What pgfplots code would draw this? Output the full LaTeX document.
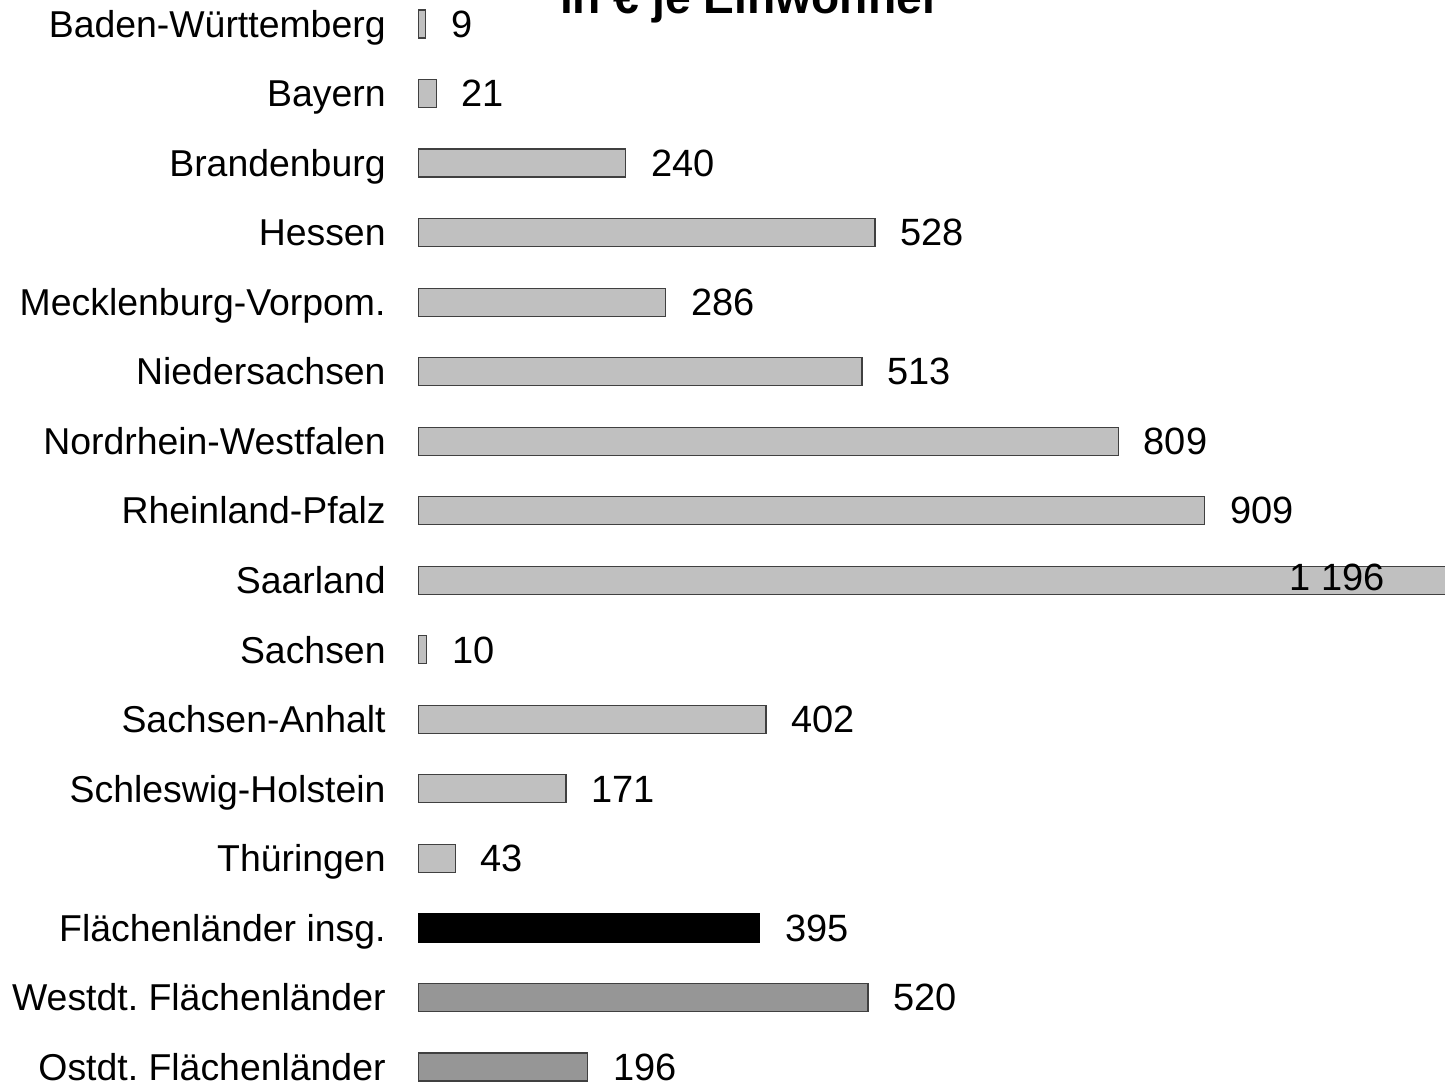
\documentclass[border=0pt]{standalone}
\usepackage{pgfplots}
\pgfplotsset{compat=1.18}
\usepackage{fontspec}
\setmainfont{Liberation Sans}
\frenchspacing
\definecolor{barA}{HTML}{C0C0C0}
\definecolor{barB}{HTML}{969696}
\definecolor{edge}{HTML}{404040}
\begin{document}
\begin{tikzpicture}
\begin{axis}[
  at={(209pt,-550.86pt)}, anchor=south west,
  scale only axis, width=513.5pt, height=556.24pt,
  xbar, bar width=14pt, bar shift=0pt,
  xmin=0, xmax=1186.6,
  ymin=-0.5, ymax=15.5, y dir=reverse,
  axis x line=none,
  axis y line*=left,
  y axis line style={draw=none},
  ytick style={draw=none},
  ytick={0,...,15},
  yticklabels={Baden-Württemberg,Bayern,Brandenburg,Hessen,Mecklenburg-Vorpom.,Niedersachsen,Nordrhein-Westfalen,Rheinland-Pfalz,Saarland,Sachsen,Sachsen-Anhalt,Schleswig-Holstein,Thüringen,Flächenländer insg.,Westdt. Flächenländer,Ostdt. Flächenländer},
  yticklabel style={font=\fontsize{18.7}{21.6}\selectfont, anchor=base east, inner sep=0pt, xshift=-16pt, yshift=-6.6pt},
  major tick length=0pt,
  nodes near coords={\pgfplotspointmeta},
  point meta=explicit symbolic,
  every node near coord/.append style={font=\fontsize{19}{21.6}\selectfont, anchor=base west, inner sep=0pt, xshift=12.5pt, yshift=-6.6pt},
]
\addplot[fill=barA, draw=edge, line width=0.6pt] coordinates {
 (9,0) [9]
 (21,1) [21]
 (240,2) [240]
 (528,3) [528]
 (286,4) [286]
 (513,5) [513]
 (809,6) [809]
 (909,7) [909]
 (10,9) [10]
 (402,10) [402]
 (171,11) [171]
 (43,12) [43]
};
\addplot[fill=barA, draw=edge, line width=0.6pt, nodes near coords={}] coordinates {(1196,8) [ ]};
\addplot[draw=none, fill=none, every node near coord/.append style={yshift=1.6pt}] coordinates {(977.5,8) [1 196]};
\addplot[fill=black, draw=black, line width=0.6pt] coordinates {(395,13) [395]};
\addplot[fill=barB, draw=edge, line width=0.6pt] coordinates {(520,14) [520] (196,15) [196]};
\end{axis}
\node[anchor=base, inner sep=0pt, font=\fontsize{23.1}{27}\selectfont\bfseries] at (375pt,-6.75pt) {in € je Einwohner};
\pgfresetboundingbox
\path[use as bounding box] (0,0) rectangle (722.5pt,-541pt);
\end{tikzpicture}
\end{document}
